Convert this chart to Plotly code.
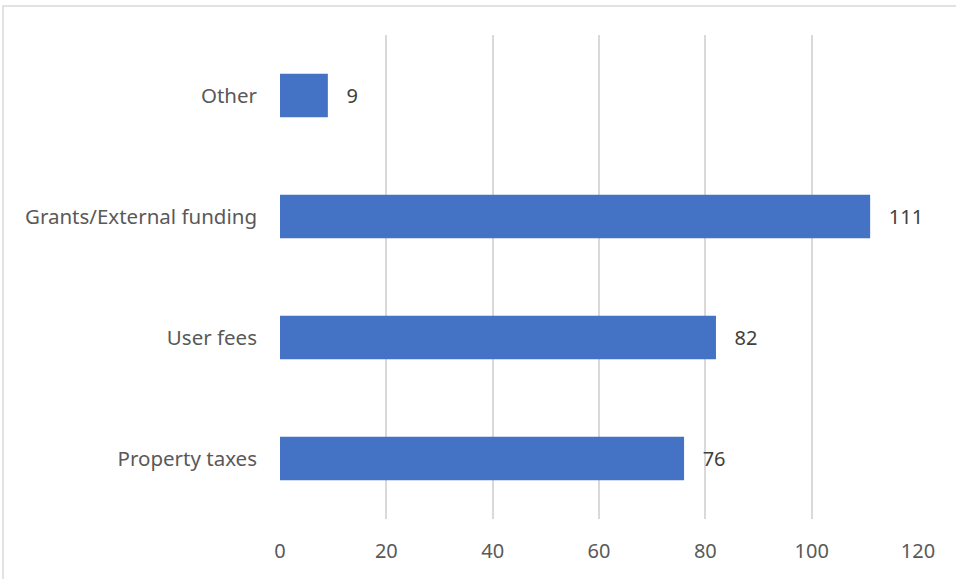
import plotly.graph_objects as go

categories = ["Property taxes", "User fees", "Grants/External funding", "Other"]
values = [76, 82, 111, 9]
x_ticks = [0, 20, 40, 60, 80, 100, 120]

W, H = 956, 579
L, R, T, B = 280, 38, 35, 60
pw, ph = W - L - R, H - T - B

fig = go.Figure(go.Bar(
    y=categories, x=values, orientation="h",
    marker=dict(color="#4472C4", line=dict(width=0)),
    width=0.36,
    text=["\u00a0\u00a0\u00a0" + str(v) for v in values], textposition="outside",
    textfont=dict(size=20, color="#404040", family="Noto Sans"),
    cliponaxis=False,
))

fig.update_layout(
    width=W, height=H,
    margin=dict(l=L, r=R, t=T, b=B),
    paper_bgcolor="white", plot_bgcolor="white",
    font=dict(family="Noto Sans", size=20, color="#595959"),
    showlegend=False,
    xaxis=dict(range=[0, 120], tickvals=x_ticks, showgrid=True, gridcolor="#D9D9D9",
               gridwidth=1.5, zeroline=False, showline=False, ticks="",
               ticklabelstandoff=18,
               tickfont=dict(size=20, color="#595959"), fixedrange=True),
    yaxis=dict(categoryorder="array", categoryarray=categories, showgrid=False,
               zeroline=False, showline=False, ticks="", ticklabelstandoff=22,
               tickfont=dict(size=20.5, color="#595959"), range=[-0.5, 3.5],
               fixedrange=True),
    shapes=[dict(type="rect", xref="paper", yref="paper",
                 x0=(3 - L) / pw, x1=(W + 5 - L) / pw,
                 y0=(H - B - (H + 5)) / ph, y1=(H - B - 6) / ph,
                 line=dict(color="#D9D9D9", width=1.5), fillcolor="rgba(0,0,0,0)", layer="below")],
)

fig.write_html("out.html", config={"displayModeBar": False},
               post_script="document.body.style.margin='0';document.body.style.overflow='hidden';")
